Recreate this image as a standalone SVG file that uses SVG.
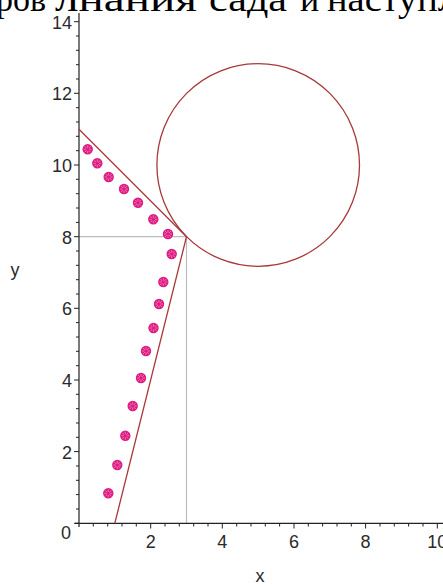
<svg xmlns="http://www.w3.org/2000/svg" xmlns:xlink="http://www.w3.org/1999/xlink" width="443" height="585" viewBox="0 0 443 585">
<style>
.ax{stroke:#222;stroke-width:1.2;fill:none}
.tk{stroke:#222;stroke-width:1;fill:none}
.lbl{font-family:"Liberation Sans",Arial,sans-serif;font-size:18px;fill:#2a2a2a}
.curve{stroke:#a8383a;stroke-width:1.3;fill:none}
.guide{stroke:#bdbdbd;stroke-width:1.2;fill:none}
.head{font-family:"Liberation Serif","Times New Roman",serif;font-size:36px;fill:#000}
</style>
<defs>
<g id="pt">
<circle r="5.2" fill="#dc1a80"/>
<path d="M-4 0H4M0-4V4M-3-3L3 3M-3 3L3-3" stroke="#f27ab8" stroke-width="0.9"/>
<circle r="1.6" fill="#dc1a80"/>
</g>
</defs>
<rect width="443" height="585" fill="#fff"/>
<g id="heading">
<text class="head" x="-4" y="11" textLength="50" lengthAdjust="spacingAndGlyphs">ров</text>
<text class="head" x="55" y="11" textLength="142" lengthAdjust="spacingAndGlyphs">лнания</text>
<text class="head" x="209" y="11" textLength="78" lengthAdjust="spacingAndGlyphs">сада</text>
<text class="head" x="300" y="11">и</text>
<text class="head" x="327" y="11" textLength="130" lengthAdjust="spacingAndGlyphs">наступл</text>
</g>
<g id="guides">
<path class="guide" d="M79 236.7H186.5V523.3"/>
</g>
<g id="axes">
<path class="ax" d="M79 13V527M75 523.3H443"/>
<path class="tk" d="M74 523.3H79M74 451.6H79M74 380H79M74 308.3H79M74 236.7H79M74 165H79M74 93.3H79M74 21.7H79"/>
<path class="tk" d="M76 509H79M76 494.6H79M76 480.3H79M76 466H79M76 437.3H79M76 423H79M76 408.7H79M76 394.3H79M76 365.7H79M76 351.3H79M76 337H79M76 322.6H79M76 294H79M76 279.7H79M76 265.3H79M76 251H79M76 222.4H79M76 208H79M76 193.7H79M76 179.3H79M76 150.7H79M76 136.3H79M76 122H79M76 107.7H79M76 79H79M76 64.7H79M76 50.3H79M76 36H79"/>
<path class="tk" d="M150.7 523.3V528.5M222.3 523.3V528.5M294 523.3V528.5M365.6 523.3V528.5M437.3 523.3V528.5"/>
<path class="tk" d="M93.3 523.3V526.5M107.7 523.3V526.5M122 523.3V526.5M136.3 523.3V526.5M165 523.3V526.5M179.3 523.3V526.5M193.7 523.3V526.5M208 523.3V526.5M236.7 523.3V526.5M251 523.3V526.5M265.3 523.3V526.5M279.6 523.3V526.5M308.3 523.3V526.5M322.6 523.3V526.5M337 523.3V526.5M351.3 523.3V526.5M380 523.3V526.5M394.3 523.3V526.5M408.6 523.3V526.5M423 523.3V526.5"/>
</g>
<g id="labels">
<text class="lbl" x="72" y="29" text-anchor="end">14</text>
<text class="lbl" x="72" y="100.3" text-anchor="end">12</text>
<text class="lbl" x="72" y="172" text-anchor="end">10</text>
<text class="lbl" x="72" y="243.7" text-anchor="end">8</text>
<text class="lbl" x="72" y="315.3" text-anchor="end">6</text>
<text class="lbl" x="72" y="387" text-anchor="end">4</text>
<text class="lbl" x="72" y="458.6" text-anchor="end">2</text>
<text class="lbl" x="71" y="538.5" text-anchor="end">0</text>
<text class="lbl" x="150.7" y="547.5" text-anchor="middle">2</text>
<text class="lbl" x="222.3" y="547.5" text-anchor="middle">4</text>
<text class="lbl" x="294" y="547.5" text-anchor="middle">6</text>
<text class="lbl" x="365.6" y="547.5" text-anchor="middle">8</text>
<text class="lbl" x="437.3" y="547.5" text-anchor="middle">10</text>
<text class="lbl" x="15" y="276" text-anchor="middle" font-size="16">y</text>
<text class="lbl" x="260" y="582" text-anchor="middle" font-size="16">x</text>
</g>
<g id="curves">
<circle class="curve" cx="258.2" cy="165" r="101.3"/>
<path class="curve" d="M79 129.2L186.5 236.7L114.8 523.3"/>
</g>
<g id="points">
<use xlink:href="#pt" x="87.7" y="149.3"/>
<use xlink:href="#pt" x="97.3" y="163.3"/>
<use xlink:href="#pt" x="108.7" y="177"/>
<use xlink:href="#pt" x="124" y="189"/>
<use xlink:href="#pt" x="138" y="202.7"/>
<use xlink:href="#pt" x="153.3" y="219.3"/>
<use xlink:href="#pt" x="168" y="234"/>
<use xlink:href="#pt" x="171.7" y="254"/>
<use xlink:href="#pt" x="163.3" y="282"/>
<use xlink:href="#pt" x="159" y="304"/>
<use xlink:href="#pt" x="153.5" y="328"/>
<use xlink:href="#pt" x="146" y="351"/>
<use xlink:href="#pt" x="141" y="378"/>
<use xlink:href="#pt" x="132.7" y="406"/>
<use xlink:href="#pt" x="125.3" y="435.7"/>
<use xlink:href="#pt" x="117.3" y="465"/>
<use xlink:href="#pt" x="108.3" y="493.3"/>
</g>
</svg>
